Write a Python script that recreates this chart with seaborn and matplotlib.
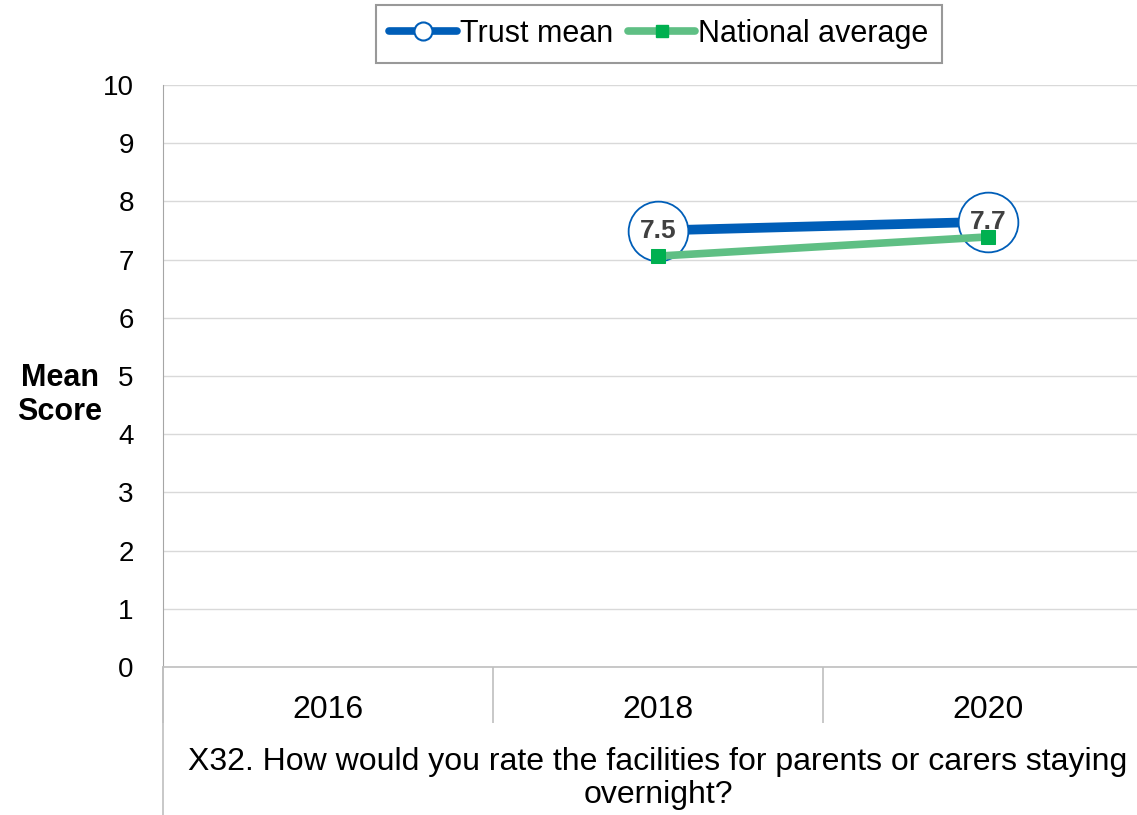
import seaborn as sns
import matplotlib.pyplot as plt
import pandas as pd
from matplotlib.lines import Line2D

# Datos
years = ['2016', '2018', '2020']
trust_years = ['2018', '2020']
trust_mean = [7.5, 7.65]
national_avg = [7.06, 7.39]
question = 'X32. How would you rate the facilities for parents or carers staying\novernight?'

blue = '#005EB8'
green_line = '#5FBF84'
green_mark = '#00B050'

sns.set_style('white')
plt.rcParams['font.family'] = ['Liberation Sans', 'DejaVu Sans']
plt.rcParams['text.color'] = 'black'
plt.rcParams['xtick.color'] = 'black'
plt.rcParams['ytick.color'] = 'black'
plt.rcParams['axes.labelcolor'] = 'black'

datos = pd.DataFrame({
    'pos': [years.index(y) for y in trust_years],
    'trust': trust_mean,
    'national': national_avg,
})

fig = plt.figure(figsize=(11.37, 8.15), dpi=100)
ax = fig.add_axes([163 / 1137, 148 / 815, 990 / 1137, 582 / 815])

sns.lineplot(data=datos, x='pos', y='trust', ax=ax, color=blue, linewidth=7,
             marker='o', markersize=43, markerfacecolor='white',
             markeredgecolor=blue, markeredgewidth=1.3, zorder=3)
for x, v in zip(datos['pos'], datos['trust']):
    ax.text(x, v, f'{v:.1f}', ha='center', va='center', fontsize=19,
            fontweight='bold', color='#404040', zorder=4)
sns.lineplot(data=datos, x='pos', y='national', ax=ax, color=green_line, linewidth=5.5,
             marker='s', markersize=10, markerfacecolor=green_mark,
             markeredgecolor=green_mark, zorder=5)

ax.set_xlim(-0.5, 2.5)
ax.set_ylim(0, 10)
ax.set_yticks(range(0, 11))
ax.tick_params(axis='y', labelsize=20, length=0, pad=21)
ax.set_xticks(range(len(years)))
ax.set_xticklabels(years, fontsize=23)
ax.tick_params(axis='x', which='major', length=0, pad=20)
ax.set_xticks([-0.5, 0.5, 1.5, 2.5], minor=True)
ax.tick_params(axis='x', which='minor', length=40, width=1.2, color='#bfbfbf',
               direction='out', bottom=True)
ax.grid(axis='y', color='#d9d9d9', linewidth=1)
ax.set_ylabel('')
ax.set_xlabel(question, fontsize=23, labelpad=14, linespacing=1.15)

for s in ['top', 'right']:
    ax.spines[s].set_visible(False)
ax.spines['left'].set_color('#a6a6a6')
ax.spines['bottom'].set_color('#bfbfbf')
ax.spines['bottom'].set_linewidth(1.2)

# línea izquierda que baja hasta el borde
fig.add_artist(Line2D([163 / 1137, 163 / 1137], [0, 148 / 815], color='#bfbfbf', linewidth=1.2))

fig.text(60 / 1137, 1 - 395 / 815, 'Mean\nScore', ha='center', va='center',
         fontsize=22, fontweight='bold', linespacing=1.2)

handles = [
    Line2D([], [], color=blue, linewidth=5.5, marker='o', markersize=13,
           markerfacecolor='white', markeredgecolor=blue, markeredgewidth=1.5),
    Line2D([], [], color=green_line, linewidth=5.5, marker='s', markersize=8,
           markerfacecolor=green_mark, markeredgecolor=green_mark),
]
leg = fig.legend(handles, ['Trust mean', 'National average'], loc='upper center',
                 bbox_to_anchor=(659 / 1137, 1 - 5 / 815), ncol=2, fontsize=22,
                 frameon=True, fancybox=False, handlelength=2.2, handletextpad=0.1,
                 columnspacing=0.5, borderpad=0.45, borderaxespad=0)
leg.get_frame().set_edgecolor('#808080')
leg.get_frame().set_linewidth(1.5)

plt.savefig('out.png', dpi=100)
